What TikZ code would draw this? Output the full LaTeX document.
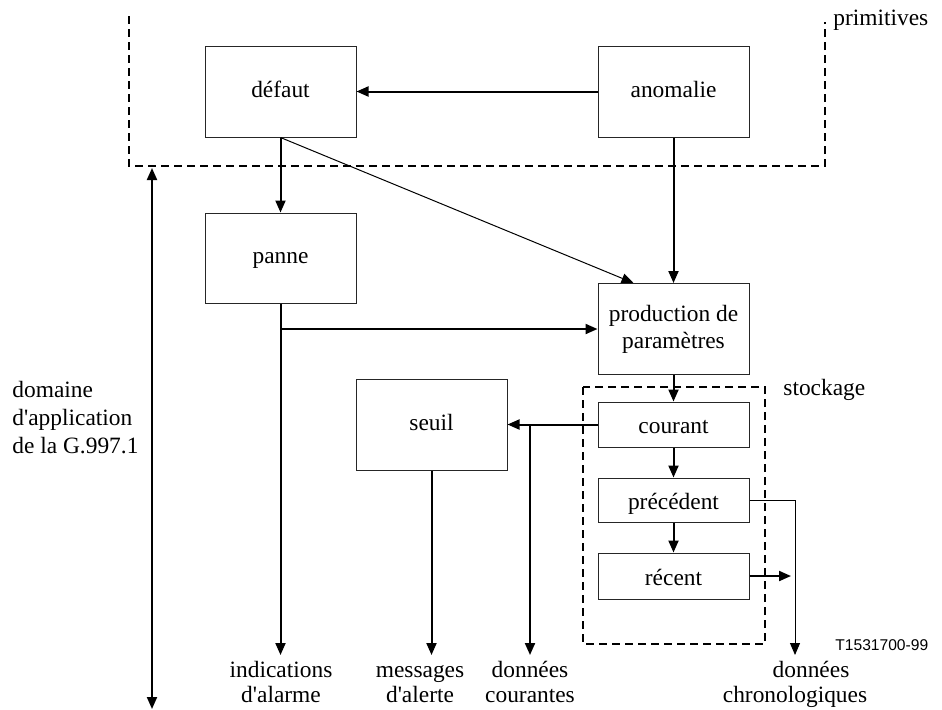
\documentclass[tikz,border=0pt]{standalone}
\usepackage{fontspec}
\setmainfont{Liberation Serif}
\newfontfamily\refsans{Liberation Sans}
\usetikzlibrary{arrows.meta}

\begin{document}
\begin{tikzpicture}[x=0.5pt, y=-0.5pt,
  font=\fontsize{11.7}{13.5}\selectfont,
  >={Triangle[length=6pt,width=5pt]},
  bloc/.style={draw=black!85, line width=0.5pt, minimum width=75.5pt, inner sep=0pt, text height=8pt, text depth=2.5pt},
  registre/.style={bloc, text height=11.5pt},
  flux/.style={->, line width=1pt},
  fin/.style={->, line width=0.5pt},
  tirets/.style={line width=1pt, dash pattern=on 4pt off 2.5pt},
  sortie/.style={anchor=north, inner sep=3pt, align=center, font=\fontsize{11.7}{12.5}\selectfont}]
  \useasboundingbox (0,0) rectangle (942,709);

  \draw[tirets] (129,16) -- (129,166) -- (825,166) -- (825,22);
  \draw[tirets] (583,387) rectangle (765,644);
  \node[anchor=base west, inner sep=0pt] (primitives) at (833,25) {primitives};
  \node[anchor=base west, inner sep=0pt] (stockage) at (783,395) {stockage};

  \node[bloc, minimum height=45.5pt] (defaut) at (280.5,91.5) {défaut};
  \node[bloc, minimum height=45.5pt] (anomalie) at (673.5,91.5) {anomalie};
  \node[bloc, minimum height=45pt] (panne) at (280.5,258) {panne};
  \node[draw=black!85, line width=0.5pt, minimum width=75.5pt, minimum height=45.5pt, inner sep=0pt, align=center] (production) at (673.5,329) {production de\\paramètres};
  \node[bloc, minimum height=45.5pt] (seuil) at (431.5,424.5) {seuil};
  \node[registre, minimum height=22.5pt] (courant) at (673.5,424.5) {courant};
  \node[registre, minimum height=22pt] (precedent) at (673.5,500) {précédent};
  \node[registre, minimum height=23pt] (recent) at (673.5,576) {récent};

  \node[sortie] (alarme) at (281,655) {indications\\d\textquotesingle alarme};
  \node[sortie] (alerte) at (420,655) {\vphantom{d}messages\\d\textquotesingle alerte};
  \node[sortie] (courantes) at (530,655) {données\\courantes};
  \node[sortie] (chrono) at (795,655) {\hspace*{16pt}données\\chronologiques};
  \node[anchor=north west, inner sep=0pt, align=left, font=\fontsize{11.7}{14}\selectfont] (domaine) at (12,381) {domaine\\d\textquotesingle application\\de la G.997.1};
  \node[anchor=base west, inner sep=0pt, font=\refsans\fontsize{7.8}{9}\selectfont] (numero) at (835,650) {T1531700-99};

  \coordinate (portee haut) at (152,168);
  \coordinate (portee bas) at (152,709);

  \draw[flux] (anomalie.west) -- (defaut.east);
  \draw[flux] (defaut.south) -- (panne.north);
  \draw[fin] (defaut.south) -- ([xshift=-20pt]production.north);
  \draw[flux] (anomalie.south) -- (production.north);
  \draw[flux] (panne.south) -- (panne.south |- alarme.north);
  \draw[flux] (panne.south |- production.west) -- (production.west);
  \draw[flux] (production.south) -- (courant.north);
  \draw[flux] (courant.west) -- (seuil.east);
  \draw[flux] (courant.west -| courantes.north) -- (courantes.north);
  \draw[flux] (seuil.south) -- (seuil.south |- alerte.north);
  \draw[flux] (courant.south) -- (precedent.north);
  \draw[flux] (precedent.south) -- (recent.north);
  \draw[fin] (precedent.east) -- (precedent.east -| chrono.north) -- (chrono.north);
  \draw[flux] (recent.east) -- ([xshift=-2pt]recent.east -| chrono.north);
  \draw[<->, line width=1pt] (portee haut) -- (portee bas);
\end{tikzpicture}
\end{document}
